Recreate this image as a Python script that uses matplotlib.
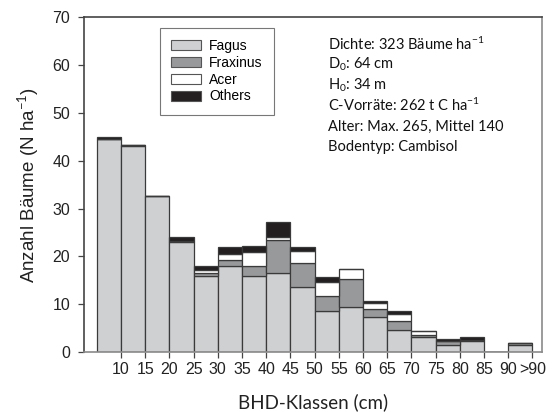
import matplotlib
matplotlib.use("Agg")
import matplotlib.pyplot as plt
from matplotlib.patches import Patch

# BHD classes (bar slots) and stacked stem numbers per species (N/ha)
ticklabels = ["10", "15", "20", "25", "30", "35", "40", "45", "50",
              "55", "60", "65", "70", "75", "80", "85", "90", ">90"]
fagus     = [44.5, 43.0, 32.6, 23.0, 15.8, 17.9, 15.8, 16.5, 13.7,
             8.5, 9.4, 7.4, 4.6, 3.1, 1.4, 2.2, 0.0, 1.5]
fraxinus  = [0.0, 0.3, 0.0, 0.2, 0.8, 1.3, 2.2, 6.9, 4.9,
             3.3, 5.8, 1.5, 1.8, 0.4, 0.8, 0.3, 0.0, 0.4]
acer      = [0.0, 0.0, 0.0, 0.0, 0.6, 1.4, 3.0, 0.7, 2.6,
             2.9, 2.1, 1.4, 1.6, 0.8, 0.0, 0.0, 0.0, 0.0]
others    = [0.4, 0.0, 0.0, 0.8, 0.8, 1.3, 1.2, 3.1, 0.7,
             0.9, 0.0, 0.4, 0.5, 0.0, 0.5, 0.7, 0.0, 0.0]

species = ["Fagus", "Fraxinus", "Acer", "Others"]
colors = ["#cfd0d2", "#98999b", "#ffffff", "#231f20"]

info = ["Dichte: 323 Bäume ha$^{-1}$",
        "D$_0$: 64 cm",
        "H$_0$: 34 m",
        "C-Vorräte: 262 t C ha$^{-1}$",
        "Alter: Max. 265, Mittel 140",
        "Bodentyp: Cambisol"]

plt.rcParams['font.family'] = ['Liberation Sans', 'DejaVu Sans']
plt.rcParams['mathtext.fontset'] = 'custom'
plt.rcParams['mathtext.rm'] = 'Lato'
plt.rcParams['mathtext.it'] = 'Lato:italic'

fig = plt.figure(figsize=(5.54, 4.12), dpi=100)
ax = fig.add_axes([0.152, 0.1456, 0.826, 0.8124])

x = list(range(len(ticklabels)))
bottom = [0.0] * len(x)
for vals, col in zip([fagus, fraxinus, acer, others], colors):
    ax.bar(x, vals, width=1.0, bottom=bottom, align="edge",
           color=col, edgecolor="#3a3a3a", linewidth=0.9)
    bottom = [b + v for b, v in zip(bottom, vals)]

ax.set_xlim(-0.52, 18.39)
ax.set_ylim(0, 70)
ax.set_yticks(range(0, 71, 10))
ax.set_xticks([i + 1 for i in x])
ax.set_xticklabels(ticklabels)
ax.tick_params(axis="both", labelsize=11.5, length=4, width=0.9,
               color="#444444", labelcolor="#222222", pad=3)
ax.tick_params(axis="y", pad=6)

for side in ["left", "top"]:
    ax.spines[side].set_color("#444444")
for side in ["right", "bottom"]:
    ax.spines[side].set_color("#8a8a8a")
for s in ax.spines.values():
    s.set_linewidth(1.2)

ax.set_ylabel("Anzahl Bäume (N ha$^{-1}$)", fontsize=13.5, color="#222222", labelpad=8)
ax.set_xlabel("BHD-Klassen (cm)", fontsize=13.5, family=["Lato", "DejaVu Sans"],
              color="#222222", labelpad=12)

handles = [Patch(facecolor=c, edgecolor="#555555", linewidth=0.8) for c in colors]
leg = ax.legend(handles, species, loc="upper left", bbox_to_anchor=(0.165, 0.968),
                borderaxespad=0, fontsize=10, frameon=True, fancybox=False,
                handlelength=2.2, handleheight=0.75, labelspacing=0.2,
                borderpad=0.8, handletextpad=0.55)
leg.get_frame().set_edgecolor("#555555")
leg.get_frame().set_linewidth(0.8)

for i, line in enumerate(info):
    ax.text(0.533, 0.92 - i * 0.0615, line, transform=ax.transAxes,
            fontsize=10.5, family=["Lato", "DejaVu Sans"], color="#111111",
            va="center", ha="left")

fig.savefig("out.png", dpi=100)
